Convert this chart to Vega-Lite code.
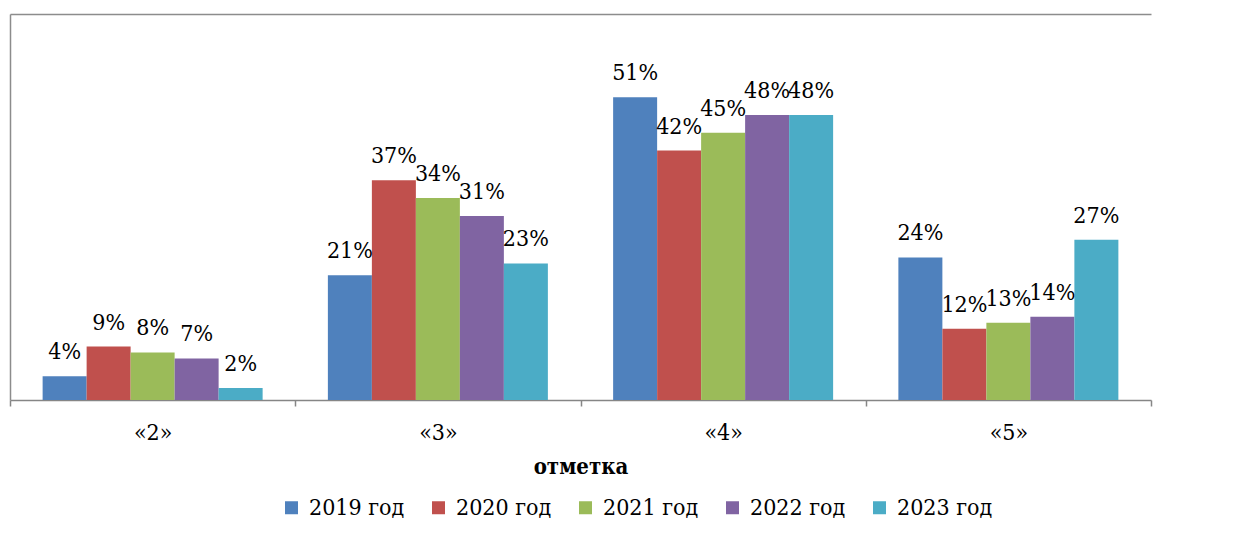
{
  "$schema": "https://vega.github.io/schema/vega-lite/v6.json",
  "width": 1141,
  "height": 386,
  "autosize": {"type": "none"},
  "padding": {"left": 10, "top": 14, "right": 93, "bottom": 138},
  "background": "white",
  "config": {
    "view": {"stroke": null},
    "font": "DejaVu Serif Condensed"
  },
  "data": {
    "values": [
      {"mark": "«2»", "year": "2019 год", "share": 0.04},
      {"mark": "«2»", "year": "2020 год", "share": 0.09},
      {"mark": "«2»", "year": "2021 год", "share": 0.08},
      {"mark": "«2»", "year": "2022 год", "share": 0.07},
      {"mark": "«2»", "year": "2023 год", "share": 0.02},
      {"mark": "«3»", "year": "2019 год", "share": 0.21},
      {"mark": "«3»", "year": "2020 год", "share": 0.37},
      {"mark": "«3»", "year": "2021 год", "share": 0.34},
      {"mark": "«3»", "year": "2022 год", "share": 0.31},
      {"mark": "«3»", "year": "2023 год", "share": 0.23},
      {"mark": "«4»", "year": "2019 год", "share": 0.51},
      {"mark": "«4»", "year": "2020 год", "share": 0.42},
      {"mark": "«4»", "year": "2021 год", "share": 0.45},
      {"mark": "«4»", "year": "2022 год", "share": 0.48},
      {"mark": "«4»", "year": "2023 год", "share": 0.48},
      {"mark": "«5»", "year": "2019 год", "share": 0.24},
      {"mark": "«5»", "year": "2020 год", "share": 0.12},
      {"mark": "«5»", "year": "2021 год", "share": 0.13},
      {"mark": "«5»", "year": "2022 год", "share": 0.14},
      {"mark": "«5»", "year": "2023 год", "share": 0.27}
    ]
  },
  "encoding": {
    "x": {
      "field": "mark",
      "type": "nominal",
      "sort": null,
      "scale": {"paddingInner": 0, "paddingOuter": 0},
      "axis": {
        "title": "отметка",
        "titleFont": "DejaVu Serif Condensed",
        "titleFontSize": 22,
        "titleFontWeight": "bold",
        "titleColor": "black",
        "titlePadding": 12,
        "labelAngle": 0,
        "labelFont": "DejaVu Serif Condensed",
        "labelFontSize": 23,
        "labelColor": "black",
        "labelPadding": 15,
        "tickBand": "extent",
        "tickSize": 6,
        "tickColor": "#868686",
        "tickWidth": 1.5,
        "domainColor": "#868686",
        "domainWidth": 1.5
      }
    },
    "xOffset": {
      "field": "year",
      "type": "nominal",
      "sort": null,
      "scale": {"paddingInner": 0, "paddingOuter": 0.7415}
    },
    "y": {
      "field": "share",
      "type": "quantitative",
      "scale": {"domain": [0, 0.65], "nice": false},
      "axis": {
        "title": null,
        "labels": false,
        "ticks": false,
        "values": [0.65],
        "grid": true,
        "gridColor": "#8c8c8c",
        "gridWidth": 1.5,
        "domainColor": "#8c8c8c",
        "domainWidth": 1.5
      }
    }
  },
  "layer": [
    {
      "mark": {"type": "bar"},
      "encoding": {
        "color": {
          "field": "year",
          "type": "nominal",
          "sort": null,
          "scale": {
            "domain": ["2019 год", "2020 год", "2021 год", "2022 год", "2023 год"],
            "range": ["#4F81BD", "#C0504D", "#9BBB59", "#8064A2", "#4BACC6"]
          },
          "legend": {
            "title": null,
            "orient": "none",
            "direction": "horizontal",
            "legendX": 270,
            "legendY": 482,
            "symbolType": "square",
            "symbolSize": 169,
            "symbolStrokeWidth": 0,
            "symbolOpacity": 1,
            "labelFont": "DejaVu Serif Condensed",
            "labelFontSize": 23,
            "labelColor": "black",
            "labelOffset": 6,
            "columnPadding": 22,
            "labelLimit": 300
          }
        }
      }
    },
    {
      "mark": {"type": "text", "baseline": "alphabetic", "dy": -17, "fontSize": 23, "font": "DejaVu Serif Condensed", "color": "black"},
      "encoding": {
        "text": {"field": "share", "type": "quantitative", "format": ".0%"}
      }
    }
  ]
}
